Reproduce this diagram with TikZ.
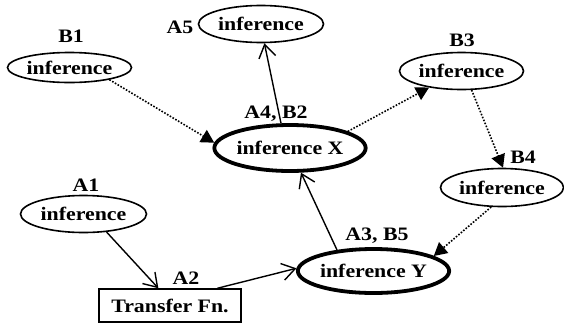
\documentclass[tikz,border=0pt]{standalone}
\usepackage{fontspec}
\setmainfont{Liberation Serif}[FakeStretch=1.15]
\usetikzlibrary{shapes.geometric,arrows.meta}

\begin{document}
\begin{tikzpicture}[x=1pt, y=-1pt]
\tikzset{infnoeud/.style={draw, ellipse, line width=1.6pt, inner sep=0pt, font=\fontsize{19}{21}\selectfont\bfseries},
  grosnoeud/.style={infnoeud, line width=3.8pt},
  boitenoeud/.style={draw, rectangle, line width=1.5pt, inner sep=0pt, minimum width=142pt, minimum height=33pt, font=\fontsize{19}{21}\selectfont\bfseries},
  etiq/.style={inner sep=0pt, font=\fontsize{19}{21}\selectfont\bfseries},
  plein/.style={line width=1.4pt, -{Straight Barb[length=13pt, width=17pt, line width=1.4pt]}},
  pointille/.style={line width=1.6pt, dash pattern=on 1.6pt off 1.6pt, -{Triangle[length=13pt, width=14pt]}}}
\useasboundingbox (0,0) rectangle (564,327);
\node[infnoeud, minimum width=124pt, minimum height=30pt] (B1) at (69.5, 67.5) {inference};
\node[infnoeud, minimum width=125pt, minimum height=37pt] (A5) at (261, 24) {inference};
\node[infnoeud, minimum width=124pt, minimum height=37pt] (B3) at (461.5, 71) {inference};
\node[infnoeud, minimum width=123pt, minimum height=38pt] (B4) at (502, 187.5) {inference};
\node[infnoeud, minimum width=126pt, minimum height=37pt] (A1) at (83.5, 214) {inference};
\node[grosnoeud, minimum width=132pt, minimum height=46pt] (X) at (290, 148) {inference X};
\node[grosnoeud, minimum width=133pt, minimum height=44pt] (Y) at (373.5, 271) {inference Y};
\node[boitenoeud] (TF) at (170, 305.5) {Transfer Fn.};
\node[etiq] (LB1) at (71, 36) {B1};
\node[etiq] (LA5) at (180, 27) {A5};
\node[etiq] (LX) at (276, 114) {A4, B2};
\node[etiq] (LB3) at (462, 40) {B3};
\node[etiq] (LB4) at (523, 157.5) {B4};
\node[etiq] (LA1) at (86, 185) {A1};
\node[etiq] (LA2) at (186, 278) {A2};
\node[etiq] (LY) at (377, 236) {A3, B5};
\draw[pointille] (B1.-17) -- (X.176);
\draw[pointille] (X.16) -- (B3.207);
\draw[pointille] (B3.-62) -- (B4.87);
\draw[pointille] (B4.241) -- (Y.14);
\draw[plein] (A1.-38) -- (TF.124);
\draw[plein] (TF.20) -- (Y.178);
\draw[plein] (Y.150) -- (X.-66);
\draw[plein] (X.110) -- (A5.-80);
\end{tikzpicture}
\end{document}
